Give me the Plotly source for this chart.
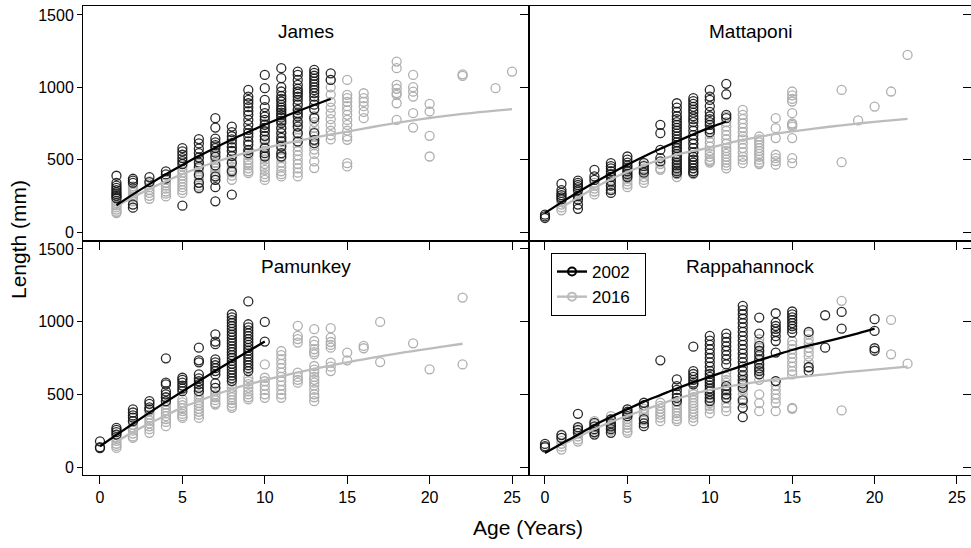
import plotly.graph_objects as go

# ---------------- data ----------------
PANELS = ["James", "Mattaponi", "Pamunkey", "Rappahannock"]
YEARS = ["2002", "2016"]
X_TICKS = [0, 5, 10, 15, 20, 25]
Y_TICKS = [0, 500, 1000, 1500]

# length (mm) observations by age, per river and year
JAMES_2002 = {
    1: [389, 340, 320, 305, 290, 275, 262, 250, 235],
    2: [368, 355, 340, 190, 168],
    3: [380, 345],
    4: [419, 398, 370],
    5: [580, 557, 534, 511, 490, 470, 182],
    6: [642, 612, 576, 545, 515, 480, 450, 395, 340, 305],
    7: [787, 722, 645, 620, 600, 580, 548, 520, 460, 385, 360, 310, 212],
    8: [729, 690, 662, 640, 614, 585, 560, 525, 478, 420, 258],
    9: [982, 936, 913, 890, 863, 835, 810, 775, 741, 706, 683, 660, 626, 603, 568, 545],
    10: [1086, 994, 913, 863, 821, 798, 775, 741, 720, 695, 665, 637, 580, 545, 522],
    11: [1132, 1063, 1001, 971, 940, 920, 902, 879, 860, 844, 825, 810, 790, 770, 752,
         718, 683, 650, 626, 591, 545, 522],
    12: [1109, 1086, 1051, 1017, 990, 971, 955, 936, 913, 880, 844, 820, 798, 760, 729, 683, 626],
    13: [1120, 1100, 1080, 1060, 1040, 1020, 1000, 980, 960, 936, 910, 880, 850, 787, 683, 637, 614],
    14: [1097, 1051],
}
JAMES_2016 = {
    1: [246, 230, 215, 200, 185, 170, 155, 140, 131],
    2: [315, 300, 285, 270, 255, 240, 225, 212],
    3: [350, 330, 310, 290, 270, 250, 230],
    4: [360, 340, 320, 300, 280, 265, 246],
    5: [453, 430, 410, 390, 370, 350, 330, 310, 290, 270],
    6: [500, 470, 440, 420, 400, 380, 360, 340, 320, 300],
    7: [591, 560, 530, 500, 480, 460, 440, 420, 400, 380, 360],
    8: [591, 560, 530, 500, 470, 450, 430, 410, 390, 361],
    9: [560, 530, 499, 480, 460, 440, 420, 407],
    10: [750, 700, 660, 620, 590, 560, 530, 500, 470, 450, 430, 400, 380, 360],
    11: [844, 800, 760, 720, 690, 660, 630, 600, 570, 540, 510, 480, 450, 420, 400, 384],
    12: [890, 850, 810, 770, 740, 710, 680, 650, 620, 590, 560, 530, 500, 470, 440, 410, 384],
    13: [844, 800, 760, 720, 690, 660, 630, 600, 570, 540, 488, 442],
    14: [1051, 1000, 950, 900, 860, 820, 780, 740, 700, 670, 640],
    15: [1051, 948, 925, 900, 870, 840, 810, 775, 740, 700, 660, 637, 476, 453],
    16: [959, 925, 900, 870, 830, 787],
    18: [1178, 1132, 1017, 990, 960, 948, 890, 775],
    19: [1086, 1001, 970, 936, 821, 722],
    20: [886, 833, 665, 522],
    22: [1090, 1079],
    24: [994],
    25: [1109],
}
MATTAPONI_2002 = {
    0: [120, 108, 97],
    1: [334, 290, 270, 255, 240, 225],
    2: [355, 340, 325, 310, 290, 250, 225, 190, 160],
    3: [430, 384, 360],
    4: [476, 455, 440, 420, 400, 380, 350, 320, 290, 270],
    5: [522, 500, 480, 460, 440, 420, 400, 380],
    6: [476, 455, 430, 410],
    7: [741, 683, 568, 511, 488],
    8: [890, 860, 830, 800, 780, 760, 740, 720, 700, 680, 660, 640, 620, 600, 580, 560,
        540, 520, 500, 480, 460, 440, 420, 407],
    9: [925, 905, 885, 865, 845, 825, 800, 780, 760, 730, 700, 670, 640, 610, 580, 550,
        520, 500, 480, 460, 440, 420, 407],
    10: [982, 936, 913, 870, 830, 800, 780, 760, 740, 710, 690],
    11: [1024, 952, 810, 787],
}
MATTAPONI_2016 = {
    1: [250, 230, 210, 190, 170, 150],
    2: [300, 280, 260, 240, 220],
    3: [340, 320, 300, 280, 260],
    4: [400, 380, 360, 340, 320, 300],
    5: [450, 430, 410, 390, 370, 350, 330, 310],
    6: [480, 460, 440, 420, 400, 380, 360, 340],
    7: [470, 440, 430],
    8: [620, 590, 560, 530, 500, 470, 450, 430, 400, 380],
    9: [640, 610, 580, 550, 520, 500, 480, 460, 440, 420, 400],
    10: [680, 650, 620, 590, 560, 540, 520, 500, 490, 480],
    11: [798, 760, 730, 700, 670, 640, 610, 580, 560, 540, 520, 500, 480, 460, 440],
    12: [844, 810, 780, 750, 720, 690, 660, 640, 610, 580, 550, 520, 500, 476],
    13: [660, 640, 620, 600, 580, 560, 540, 520, 500, 480, 470],
    14: [787, 718, 649, 534, 510, 490, 465],
    15: [971, 945, 920, 902, 821, 750, 741, 729, 649, 511, 476],
    18: [982, 483],
    19: [771],
    20: [867],
    21: [971],
    22: [1224],
}
PAMUNKEY_2002 = {
    0: [177, 136, 130],
    1: [269, 255, 240, 223],
    2: [396, 375, 355, 340, 315],
    3: [453, 435, 410, 396],
    4: [748, 580, 568, 520, 500, 480, 453],
    5: [614, 600, 580, 560, 540, 522],
    6: [821, 734, 720, 637, 610, 590, 570, 545, 522],
    7: [913, 863, 845, 741, 720, 700, 680, 660, 637, 575, 545],
    8: [1051, 1030, 1010, 990, 970, 950, 930, 910, 890, 870, 850, 830, 810, 790, 770, 750,
        730, 710, 690, 670, 650, 630, 610, 591],
    9: [1139, 982, 960, 940, 920, 900, 880, 860, 840, 820, 800, 780, 760, 740, 720, 700, 680, 660],
    10: [998, 863],
}
PAMUNKEY_2016 = {
    1: [223, 200, 180, 160, 145, 131],
    2: [315, 290, 270, 250, 230, 210, 200],
    3: [384, 360, 340, 320, 300, 280, 260, 235],
    4: [476, 450, 430, 410, 390, 370, 350, 330, 310, 281],
    5: [465, 445, 425, 405, 385, 365, 350, 338],
    6: [522, 500, 480, 460, 440, 420, 400, 380, 360, 338],
    7: [545, 520, 500, 480, 460, 440, 430],
    8: [568, 545, 520, 500, 480, 460, 440, 420, 407],
    9: [614, 590, 570, 545, 520, 500, 480, 465],
    10: [706, 614, 590, 560, 530, 500, 476],
    11: [798, 770, 740, 710, 680, 650, 620, 590, 560, 530, 500, 476],
    12: [971, 902, 880, 856, 649, 620, 600, 580],
    13: [948, 867, 840, 810, 790, 775, 695, 670, 650, 620, 600, 580, 560, 530, 500, 480, 453],
    14: [955, 890, 860, 840, 821, 718, 690, 660],
    15: [787, 734],
    16: [833, 817],
    17: [998, 722],
    19: [851],
    20: [672],
    22: [1166, 706],
}
RAPPAHANNOCK_2002 = {
    0: [159, 143, 135],
    1: [220, 200],
    2: [366, 274, 255, 235],
    3: [304, 280, 260, 240, 223],
    4: [327, 300, 280, 260, 235],
    5: [396, 380, 365, 350],
    6: [442, 425, 330, 300, 281],
    7: [734],
    8: [603, 557, 530, 500, 475, 453],
    9: [828, 660, 640, 620, 600, 580, 568],
    10: [902, 870, 840, 810, 780, 750, 720, 690, 660, 640, 620, 600, 580, 560, 540, 520, 500, 475, 453],
    11: [918, 890, 860, 830, 800, 770, 740, 706, 557, 530, 500, 476],
    12: [1109, 1080, 1051, 1020, 990, 960, 930, 900, 870, 840, 810, 780, 750, 720, 690, 660,
         630, 600, 575, 545, 458, 407, 343],
    13: [1028, 918, 833, 800, 770, 740, 710, 680, 660, 637],
    14: [1058, 994, 970, 950, 930, 900, 867, 787, 591],
    15: [1070, 1050, 1030, 1010, 990, 970, 950, 925],
    16: [929, 688, 660],
    17: [1044, 821],
    18: [1067, 952],
    20: [1017, 936, 817, 800],
}
RAPPAHANNOCK_2016 = {
    1: [223, 200, 180, 160, 140, 120],
    2: [270, 250, 230, 210, 190, 175],
    3: [315, 295, 275, 255, 235],
    4: [350, 330, 310, 290, 270, 250],
    5: [396, 370, 350, 330, 310, 290, 270, 250, 235],
    6: [400, 380, 360, 340, 320],
    7: [442, 420, 400, 380, 360, 340, 315],
    8: [476, 450, 430, 410, 390, 370, 350, 330, 315],
    9: [520, 500, 480, 460, 440, 420, 400, 380, 360, 340, 315],
    10: [591, 560, 530, 500, 480, 460, 440, 420, 400, 370],
    11: [649, 620, 600, 580, 560, 540, 520, 500, 470, 440, 410, 384],
    12: [620, 590, 560, 530, 500, 470, 440, 410],
    13: [879, 850, 820, 790, 760, 730, 700, 670, 640, 600, 500, 440, 384],
    14: [591, 560, 530, 500, 470, 440, 384],
    15: [867, 840, 810, 780, 750, 720, 690, 660, 637, 407, 400],
    16: [913, 880, 850, 820, 790, 760, 720, 683],
    18: [1143, 389],
    21: [1012, 775],
    22: [711],
}

# fitted growth curves (at whole ages)
JAMES_2002_FIT_AGE = [1, 2, 3, 4, 5, 6, 7, 8, 9, 10, 11, 12, 13, 14]
JAMES_2002_FIT_LEN = [185, 260, 331, 399, 463, 525, 583, 639, 691, 742, 789, 835, 878, 919]
JAMES_2016_FIT_AGE = [1, 2, 3, 4, 5, 6, 7, 8, 9, 10, 11, 12, 13, 14, 15, 16, 17, 18, 19, 20,
                      21, 22, 23, 24, 25]
JAMES_2016_FIT_LEN = [178, 240, 298, 351, 400, 444, 484, 520, 552, 580, 606, 630, 653, 674,
                      694, 715, 735, 754, 771, 788, 803, 816, 828, 839, 849]
MATTAPONI_2002_FIT_AGE = [0, 1, 2, 3, 4, 5, 6, 7, 8, 9, 10, 11]
MATTAPONI_2002_FIT_LEN = [131, 205, 275, 342, 405, 465, 522, 575, 626, 675, 721, 764]
MATTAPONI_2016_FIT_AGE = [1, 2, 3, 4, 5, 6, 7, 8, 9, 10, 11, 12, 13, 14, 15, 16, 17, 18, 19,
                          20, 21, 22]
MATTAPONI_2016_FIT_LEN = [168, 238, 305, 365, 415, 460, 500, 535, 560, 583, 610, 636, 658,
                          678, 695, 710, 724, 737, 750, 761, 772, 782]
PAMUNKEY_2002_FIT_AGE = [0, 1, 2, 3, 4, 5, 6, 7, 8, 9, 10]
PAMUNKEY_2002_FIT_LEN = [143, 221, 298, 374, 448, 520, 591, 661, 730, 797, 863]
PAMUNKEY_2016_FIT_AGE = [1, 2, 3, 4, 5, 6, 7, 8, 9, 10, 11, 12, 13, 14, 15, 16, 17, 18, 19,
                         20, 21, 22]
PAMUNKEY_2016_FIT_LEN = [175, 240, 300, 355, 410, 455, 497, 535, 568, 598, 625, 651, 675,
                         698, 720, 741, 761, 780, 798, 815, 832, 848]
RAPPAHANNOCK_2002_FIT_AGE = [0, 1, 2, 3, 4, 5, 6, 7, 8, 9, 10, 11, 12, 13, 14, 15, 16, 17,
                             18, 19, 20]
RAPPAHANNOCK_2002_FIT_LEN = [97, 160, 222, 288, 345, 398, 450, 495, 540, 582, 621, 660, 697,
                             735, 770, 805, 835, 862, 890, 920, 952]
RAPPAHANNOCK_2016_FIT_AGE = [1, 2, 3, 4, 5, 6, 7, 8, 9, 10, 11, 12, 13, 14, 15, 16, 17, 18,
                             19, 20, 21, 22]
RAPPAHANNOCK_2016_FIT_LEN = [154, 205, 262, 310, 352, 392, 433, 470, 502, 530, 552, 570, 587,
                             602, 614, 626, 638, 650, 660, 670, 680, 690]

POINTS = {
    "James": (JAMES_2002, JAMES_2016),
    "Mattaponi": (MATTAPONI_2002, MATTAPONI_2016),
    "Pamunkey": (PAMUNKEY_2002, PAMUNKEY_2016),
    "Rappahannock": (RAPPAHANNOCK_2002, RAPPAHANNOCK_2016),
}
FITS = {
    "James": ((JAMES_2002_FIT_AGE, JAMES_2002_FIT_LEN), (JAMES_2016_FIT_AGE, JAMES_2016_FIT_LEN)),
    "Mattaponi": ((MATTAPONI_2002_FIT_AGE, MATTAPONI_2002_FIT_LEN),
                  (MATTAPONI_2016_FIT_AGE, MATTAPONI_2016_FIT_LEN)),
    "Pamunkey": ((PAMUNKEY_2002_FIT_AGE, PAMUNKEY_2002_FIT_LEN),
                 (PAMUNKEY_2016_FIT_AGE, PAMUNKEY_2016_FIT_LEN)),
    "Rappahannock": ((RAPPAHANNOCK_2002_FIT_AGE, RAPPAHANNOCK_2002_FIT_LEN),
                     (RAPPAHANNOCK_2016_FIT_AGE, RAPPAHANNOCK_2016_FIT_LEN)),
}

# ---------------- styling ----------------
FONT = "Liberation Sans, Arial, Helvetica, sans-serif"
PT_COLOR = {"2002": "rgba(20,20,20,0.9)", "2016": "rgb(175,175,175)"}
LN_COLOR = {"2002": "rgb(0,0,0)", "2016": "rgb(188,188,188)"}

W, H = 971, 548
ML, MR, MT, MB = 83, 0, 6, 73
split_x = (529 - ML) / (W - ML - MR)
split_y = (475 - 240.7) / (H - MT - MB)

X_RANGE_L = [-1.03, 26.03]
X_RANGE_R = [-0.97, 25.85]
Y_RANGE_T = [-60, 1562]
Y_RANGE_B = [-55, 1557]

fig = go.Figure()

subplots = [("x", "y"), ("x2", "y2"), ("x3", "y3"), ("x4", "y4")]

for p, (xa, ya) in zip(PANELS, subplots):
    pts = POINTS[p]
    # gray (2016) first, then black (2002)
    for yi in (1, 0):
        yr = YEARS[yi]
        xs, ys = [], []
        for age, vals in pts[yi].items():
            for v in vals:
                xs.append(age)
                ys.append(v)
        fig.add_trace(go.Scatter(
            x=xs, y=ys, mode="markers", xaxis=xa, yaxis=ya, showlegend=False,
            marker=dict(symbol="circle-open", size=9, color=PT_COLOR[yr],
                        line=dict(width=1.3, color=PT_COLOR[yr])),
            hoverinfo="skip"))
    for yi in (1, 0):
        yr = YEARS[yi]
        ages, lens = FITS[p][yi]
        fig.add_trace(go.Scatter(
            x=ages, y=lens, mode="lines", xaxis=xa, yaxis=ya, showlegend=False,
            line=dict(color=LN_COLOR[yr], width=2.3, shape="spline"),
            hoverinfo="skip"))

# legend-only entries
for yr in YEARS:
    fig.add_trace(go.Scatter(
        x=[None], y=[None], mode="lines+markers", name=yr + "  ", xaxis="x4", yaxis="y4",
        line=dict(color=LN_COLOR[yr], width=2.4),
        marker=dict(symbol="circle-open", size=8, color=LN_COLOR[yr],
                    line=dict(width=2, color=LN_COLOR[yr]))))

# empty traces for the right-side inside tick axes
fig.add_trace(go.Scatter(x=[], y=[], xaxis="x2", yaxis="y5", showlegend=False))
fig.add_trace(go.Scatter(x=[], y=[], xaxis="x4", yaxis="y6", showlegend=False))

axis_common = dict(showline=True, linecolor="black", linewidth=1, mirror=True,
                   showgrid=False, zeroline=False, ticks="outside", tickcolor="black",
                   tickwidth=1, tickfont=dict(family=FONT, size=16, color="black"))

fig.update_layout(
    width=W, height=H,
    margin=dict(l=ML, r=MR, t=MT, b=MB, pad=0),
    paper_bgcolor="white", plot_bgcolor="rgba(0,0,0,0)",
    font=dict(family=FONT, color="black"),
    xaxis=dict(domain=[0, split_x], range=X_RANGE_L, anchor="y", tickvals=X_TICKS,
               ticklen=8, showticklabels=False, **axis_common),
    xaxis2=dict(domain=[split_x, 1], range=X_RANGE_R, anchor="y2", tickvals=X_TICKS,
                ticklen=8, showticklabels=False, **axis_common),
    xaxis3=dict(domain=[0, split_x], range=X_RANGE_L, anchor="y3", tickvals=X_TICKS,
                ticklen=8, showticklabels=True, **axis_common),
    xaxis4=dict(domain=[split_x, 1], range=X_RANGE_R, anchor="y4", tickvals=X_TICKS,
                ticklen=8, showticklabels=True, **axis_common),
    yaxis=dict(domain=[split_y, 1], range=Y_RANGE_T, anchor="x", tickvals=Y_TICKS,
               ticklen=5, showticklabels=True, **axis_common),
    yaxis2=dict(domain=[split_y, 1], range=Y_RANGE_T, anchor="x2", tickvals=Y_TICKS,
                ticklen=8, showticklabels=False, **axis_common),
    yaxis3=dict(domain=[0, split_y], range=Y_RANGE_B, anchor="x3", tickvals=Y_TICKS,
                ticklen=5, showticklabels=True, **axis_common),
    yaxis4=dict(domain=[0, split_y], range=Y_RANGE_B, anchor="x4", tickvals=Y_TICKS,
                ticklen=8, showticklabels=False, **axis_common),
    yaxis5=dict(overlaying="y2", side="right", anchor="x2", range=Y_RANGE_T,
                tickvals=Y_TICKS, ticks="inside", ticklen=8, tickcolor="black",
                showticklabels=False, showgrid=False, zeroline=False, showline=False),
    yaxis6=dict(overlaying="y4", side="right", anchor="x4", range=Y_RANGE_B,
                tickvals=Y_TICKS, ticks="inside", ticklen=8, tickcolor="black",
                showticklabels=False, showgrid=False, zeroline=False, showline=False),
    legend=dict(x=(551 - ML) / (W - ML - MR), y=(475 - 253) / (H - MT - MB),
                xanchor="left", yanchor="top", bgcolor="white", bordercolor="black",
                borderwidth=1, font=dict(family=FONT, size=17, color="black"),
                tracegroupgap=0, itemwidth=30),
    showlegend=True,
)

# panel titles
centers_x = [split_x / 2, (split_x + 1) / 2, split_x / 2, (split_x + 1) / 2]
title_y = [(475 - 32) / (H - MT - MB), (475 - 32) / (H - MT - MB),
           (475 - 266) / (H - MT - MB), (475 - 266) / (H - MT - MB)]
for p, cx, cy in zip(PANELS, centers_x, title_y):
    fig.add_annotation(text=p, x=cx, y=cy, xref="paper", yref="paper", showarrow=False,
                       xanchor="center", yanchor="middle",
                       font=dict(family=FONT, size=19, color="black"))

# axis titles
fig.add_annotation(text="Length (mm)", x=(18 - ML) / (W - ML - MR), y=(475 - 240) / (H - MT - MB),
                   xref="paper", yref="paper", showarrow=False, textangle=-90,
                   xanchor="center", yanchor="middle",
                   font=dict(family=FONT, size=21, color="black"))
fig.add_annotation(text="Age (Years)", x=(528 - ML) / (W - ML - MR), y=(475 - 527) / (H - MT - MB),
                   xref="paper", yref="paper", showarrow=False,
                   xanchor="center", yanchor="middle",
                   font=dict(family=FONT, size=21, color="black"))

fig.write_html("out.html",
               config={"displayModeBar": False},
               post_script="document.body.style.margin='0px';"
                           "document.body.style.padding='0px';")
